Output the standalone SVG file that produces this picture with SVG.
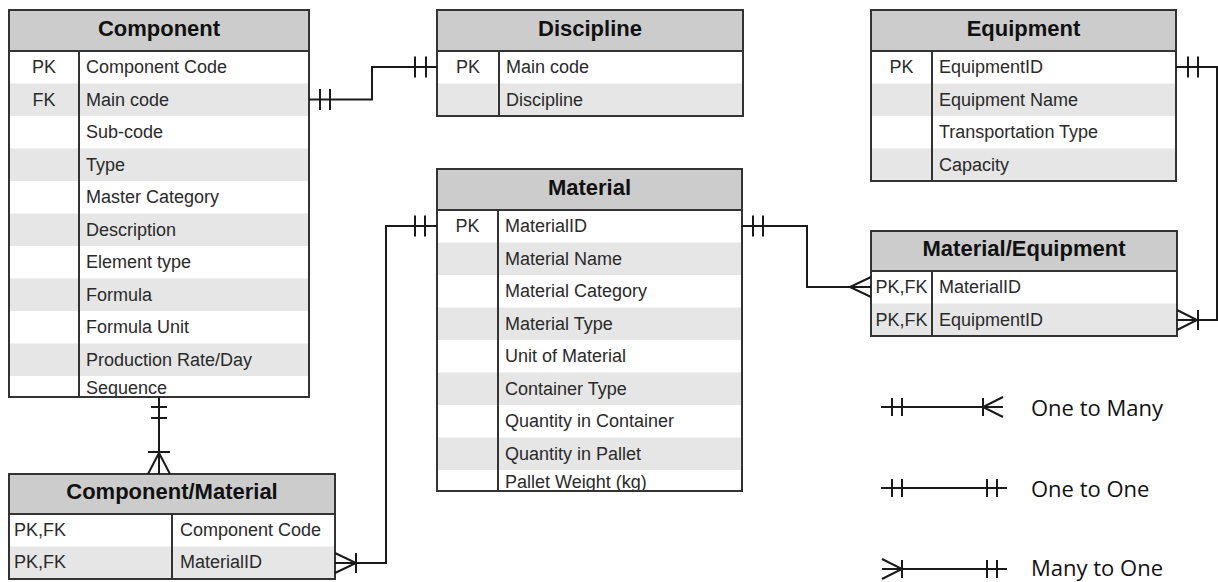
<svg xmlns="http://www.w3.org/2000/svg" width="1218" height="582" viewBox="0 0 1218 582">
  <style>
    .bg { fill: #ffffff; }
    .head { fill: #cccccc; }
    .alt { fill: #e6e6e6; }
    .frame { fill: none; stroke: #333333; stroke-width: 2; }
    .rule { stroke: #333333; stroke-width: 2; }
    .title { font-family: "Liberation Sans", Arial, sans-serif; font-size: 22px; font-weight: bold; fill: #111111; text-anchor: middle; }
    .field { font-family: "Liberation Sans", Arial, sans-serif; font-size: 18px; fill: #2a2a2a; }
    .key { font-family: "Liberation Sans", Arial, sans-serif; font-size: 18px; fill: #2a2a2a; text-anchor: middle; }
    .keyl { font-family: "Liberation Sans", Arial, sans-serif; font-size: 18px; fill: #2a2a2a; }
    .link { fill: none; stroke: #1a1a1a; stroke-width: 2; }
    .legend { font-family: "Open Sans", "Liberation Sans", sans-serif; font-size: 22px; fill: #111111; }
  </style>

  <rect class="bg" x="0" y="0" width="1218" height="582"/>

  <!-- Component entity -->
  <g id="component">
    <rect class="bg" x="9" y="10" width="300" height="387"/>
    <rect class="head" x="9" y="10" width="300" height="41"/>
    <rect class="alt" x="9" y="83.5" width="300" height="32.5"/>
    <rect class="alt" x="9" y="148.5" width="300" height="32.5"/>
    <rect class="alt" x="9" y="213.5" width="300" height="32.5"/>
    <rect class="alt" x="9" y="278.5" width="300" height="32.5"/>
    <rect class="alt" x="9" y="343.5" width="300" height="32.5"/>
    <text class="title" x="159" y="36">Component</text>
    <text class="key" x="44" y="73">PK</text>
    <text class="key" x="44" y="105.5">FK</text>
    <text class="field" x="86" y="73">Component Code</text>
    <text class="field" x="86" y="105.5">Main code</text>
    <text class="field" x="86" y="138">Sub-code</text>
    <text class="field" x="86" y="170.5">Type</text>
    <text class="field" x="86" y="203">Master Category</text>
    <text class="field" x="86" y="235.5">Description</text>
    <text class="field" x="86" y="268">Element type</text>
    <text class="field" x="86" y="300.5">Formula</text>
    <text class="field" x="86" y="333">Formula Unit</text>
    <text class="field" x="86" y="365.5">Production Rate/Day</text>
    <text class="field" x="86" y="394">Sequence</text>
    <line class="rule" x1="9" y1="51" x2="309" y2="51"/>
    <line class="rule" x1="79" y1="51" x2="79" y2="397"/>
    <rect class="frame" x="9" y="10" width="300" height="387"/>
  </g>

  <!-- Discipline entity -->
  <g id="discipline">
    <rect class="bg" x="437" y="10" width="306" height="106"/>
    <rect class="head" x="437" y="10" width="306" height="41"/>
    <rect class="alt" x="437" y="83.5" width="306" height="32.5"/>
    <text class="title" x="590" y="36">Discipline</text>
    <text class="key" x="468" y="73">PK</text>
    <text class="field" x="506" y="73">Main code</text>
    <text class="field" x="506" y="105.5">Discipline</text>
    <line class="rule" x1="437" y1="51" x2="743" y2="51"/>
    <line class="rule" x1="499" y1="51" x2="499" y2="116"/>
    <rect class="frame" x="437" y="10" width="306" height="106"/>
  </g>

  <!-- Equipment entity -->
  <g id="equipment">
    <rect class="bg" x="871" y="10" width="305" height="171"/>
    <rect class="head" x="871" y="10" width="305" height="41"/>
    <rect class="alt" x="871" y="83.5" width="305" height="32.5"/>
    <rect class="alt" x="871" y="148.5" width="305" height="32.5"/>
    <text class="title" x="1023.5" y="36">Equipment</text>
    <text class="key" x="901.5" y="73">PK</text>
    <text class="field" x="939" y="73">EquipmentID</text>
    <text class="field" x="939" y="105.5">Equipment Name</text>
    <text class="field" x="939" y="138">Transportation Type</text>
    <text class="field" x="939" y="170.5">Capacity</text>
    <line class="rule" x1="871" y1="51" x2="1176" y2="51"/>
    <line class="rule" x1="932" y1="51" x2="932" y2="181"/>
    <rect class="frame" x="871" y="10" width="305" height="171"/>
  </g>

  <!-- Material entity -->
  <g id="material">
    <rect class="bg" x="437" y="169" width="305" height="322"/>
    <rect class="head" x="437" y="169" width="305" height="41"/>
    <rect class="alt" x="437" y="242.5" width="305" height="32.5"/>
    <rect class="alt" x="437" y="307.5" width="305" height="32.5"/>
    <rect class="alt" x="437" y="372.5" width="305" height="32.5"/>
    <rect class="alt" x="437" y="437.5" width="305" height="32.5"/>
    <text class="title" x="589.5" y="195">Material</text>
    <text class="key" x="467.5" y="232">PK</text>
    <text class="field" x="505" y="232">MaterialID</text>
    <text class="field" x="505" y="264.5">Material Name</text>
    <text class="field" x="505" y="297">Material Category</text>
    <text class="field" x="505" y="329.5">Material Type</text>
    <text class="field" x="505" y="362">Unit of Material</text>
    <text class="field" x="505" y="394.5">Container Type</text>
    <text class="field" x="505" y="427">Quantity in Container</text>
    <text class="field" x="505" y="459.5">Quantity in Pallet</text>
    <text class="field" x="505" y="488">Pallet Weight (kg)</text>
    <line class="rule" x1="437" y1="210" x2="742" y2="210"/>
    <line class="rule" x1="498" y1="210" x2="498" y2="491"/>
    <rect class="frame" x="437" y="169" width="305" height="322"/>
  </g>

  <!-- Material/Equipment entity -->
  <g id="material-equipment">
    <rect class="bg" x="871" y="231" width="306" height="105"/>
    <rect class="head" x="871" y="231" width="306" height="40"/>
    <rect class="alt" x="871" y="303.5" width="306" height="32.5"/>
    <text class="title" x="1024" y="256">Material/Equipment</text>
    <text class="key" x="901.5" y="293">PK,FK</text>
    <text class="key" x="901.5" y="325.5">PK,FK</text>
    <text class="field" x="939" y="293">MaterialID</text>
    <text class="field" x="939" y="325.5">EquipmentID</text>
    <line class="rule" x1="871" y1="271" x2="1177" y2="271"/>
    <line class="rule" x1="932" y1="271" x2="932" y2="336"/>
    <rect class="frame" x="871" y="231" width="306" height="105"/>
  </g>

  <!-- Component/Material entity -->
  <g id="component-material">
    <rect class="bg" x="9" y="474" width="326" height="105"/>
    <rect class="head" x="9" y="474" width="326" height="40"/>
    <rect class="alt" x="9" y="546.5" width="326" height="32.5"/>
    <text class="title" x="172" y="499">Component/Material</text>
    <text class="keyl" x="14" y="536">PK,FK</text>
    <text class="keyl" x="14" y="568">PK,FK</text>
    <text class="field" x="180" y="536">Component Code</text>
    <text class="field" x="180" y="568">MaterialID</text>
    <line class="rule" x1="9" y1="514" x2="335" y2="514"/>
    <line class="rule" x1="172" y1="514" x2="172" y2="579"/>
    <rect class="frame" x="9" y="474" width="326" height="105"/>
  </g>

  <!-- Relationships (crow's foot notation) -->
  <g id="connectors">
    <!-- Component.Main code to Discipline.Main code: one to one -->
    <path class="link" d="M309,99.5 H372 V67 H437"/>
    <path class="link" d="M320,89 V110 M330,89 V110"/>
    <path class="link" d="M415,56.5 V77.5 M426,56.5 V77.5"/>

    <!-- Component to Component/Material: one to many -->
    <path class="link" d="M159,397 V474"/>
    <path class="link" d="M151,407 H167 M151,418 H167"/>
    <path class="link" d="M148,452 H170 M148,474 L159,453 L170,474"/>

    <!-- Component/Material to Material: many to one -->
    <path class="link" d="M335,563 H386 V226 H437"/>
    <path class="link" d="M415,215.5 V236.5 M425,215.5 V236.5"/>
    <path class="link" d="M335,553 L356,563 L335,573 M356,553 V573"/>

    <!-- Material to Material/Equipment: one to many -->
    <path class="link" d="M742,226 H807 V287 H871"/>
    <path class="link" d="M753,215.5 V236.5 M763,215.5 V236.5"/>
    <path class="link" d="M871,277 L850,287 L871,297"/>

    <!-- Equipment to Material/Equipment: one to many -->
    <path class="link" d="M1176,67 H1217 V320 H1177"/>
    <path class="link" d="M1188,56.5 V77.5 M1198,56.5 V77.5"/>
    <path class="link" d="M1177,310 L1197,320 L1177,330 M1198,310 V330"/>
  </g>

  <!-- Legend -->
  <g id="legend">
    <path class="link" d="M881,407 H1003"/>
    <path class="link" d="M892,398 V416 M902,398 V416"/>
    <path class="link" d="M983,398 V416 M1003,397 L983,407 L1003,417"/>
    <text class="legend" x="1031" y="416">One to Many</text>

    <path class="link" d="M881,488 H1007"/>
    <path class="link" d="M892,479 V497 M902,479 V497"/>
    <path class="link" d="M987,479 V497 M997,479 V497"/>
    <text class="legend" x="1031" y="497">One to One</text>

    <path class="link" d="M882,569 H1007"/>
    <path class="link" d="M882,559 L902,569 L882,579 M902,560 V578"/>
    <path class="link" d="M987,560 V578 M997,560 V578"/>
    <text class="legend" x="1031" y="576">Many to One</text>
  </g>
</svg>
